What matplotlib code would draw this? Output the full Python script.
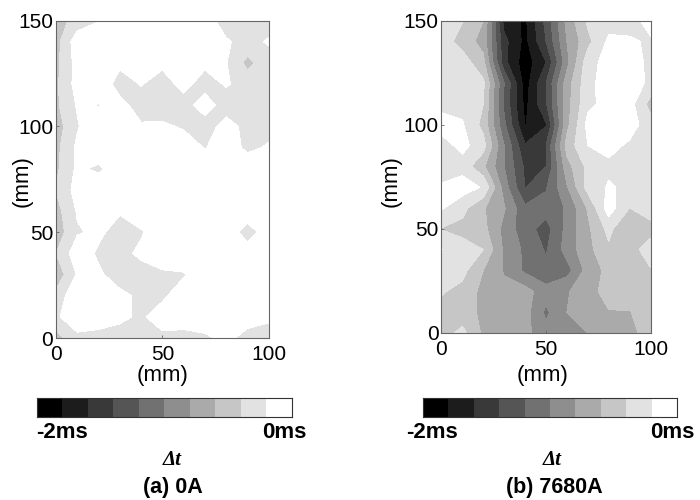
#-*- coding: utf-8 -*-
import numpy as np
import matplotlib
matplotlib.use('Agg')
import matplotlib.pyplot as plt
from matplotlib.colors import ListedColormap

plt.rcParams['font.family'] = ['Liberation Sans', 'DejaVu Sans']

x_mm = [0, 10, 20, 30, 40, 50, 60, 70, 80, 90, 100]
y_mm = [0, 10, 20, 30, 40, 50, 60, 70, 80, 90, 100, 110, 120, 130, 140, 150]

# dt, in colour bands (0 = -2ms, 10 = 0ms), rows from y=0 up
bands_0A = [
    [7.6, 8.7, 8.6, 8.6, 8.6, 8.75, 8.6, 8.8, 9.3, 8.6, 8.5],
    [8.8, 9.8, 9.6, 9.2, 8.85, 9.5, 9.6, 9.7, 9.7, 9.5, 9.2],
    [8.3, 9.9, 9.6, 9.2, 8.85, 8.8, 9.6, 9.7, 8.95, 9.7, 9.8],
    [7.3, 9.1, 9.15, 8.6, 8.6, 8.8, 8.9, 9.7, 9.8, 9.8, 9.8],
    [8.0, 9.6, 8.85, 8.7, 9.2, 9.7, 9.8, 9.8, 9.8, 9.6, 9.8],
    [7.4, 8.9, 9.2, 8.6, 8.9, 9.6, 9.8, 9.8, 9.7, 8.5, 9.6],
    [7.6, 9.1, 9.5, 9.1, 9.6, 9.8, 9.8, 9.8, 9.8, 9.6, 9.8],
    [8.05, 9.4, 9.7, 9.8, 9.8, 9.8, 9.8, 9.8, 9.8, 9.8, 9.8],
    [7.8, 9.2, 8.8, 9.7, 9.8, 9.8, 9.8, 9.6, 9.7, 9.6, 9.6],
    [7.7, 9.2, 9.8, 9.8, 9.8, 9.7, 9.5, 8.95, 9.5, 8.8, 9.1],
    [7.5, 8.9, 9.9, 9.8, 9.1, 9.15, 8.9, 8.5, 9.4, 8.7, 8.7],
    [7.8, 9.1, 8.95, 9.3, 8.6, 8.5, 8.6, 9.5, 8.5, 8.6, 8.5],
    [7.8, 9.4, 9.7, 8.6, 9.05, 8.6, 9.3, 8.6, 9.1, 8.6, 8.6],
    [7.7, 9.4, 9.8, 9.2, 9.5, 9.2, 9.5, 9.2, 9.05, 7.7, 8.6],
    [7.6, 9.6, 9.8, 9.8, 9.8, 9.8, 9.7, 9.6, 9.1, 8.7, 9.1],
    [7.5, 8.4, 8.95, 9.6, 9.8, 9.8, 9.8, 9.4, 8.6, 8.6, 8.6],
]

bands_7680A = [
    [7.5, 8.3, 6.8, 6.5, 6.3, 5.3, 5.6, 6.0, 6.4, 6.8, 7.3],
    [7.7, 7.4, 6.8, 6.6, 6.4, 4.8, 6.0, 6.5, 6.95, 6.95, 7.6],
    [8.1, 7.7, 6.7, 6.3, 6.4, 5.4, 5.9, 6.6, 7.4, 7.5, 7.6],
    [8.3, 8.3, 7.0, 5.9, 4.8, 4.2, 4.6, 6.4, 7.3, 7.3, 7.9],
    [9.02, 8.4, 8.0, 5.8, 4.8, 3.9, 5.4, 6.7, 7.8, 7.5, 8.6],
    [7.95, 7.7, 7.3, 5.7, 4.4, 3.6, 5.3, 6.8, 8.3, 6.95, 7.5],
    [9.1, 8.3, 7.1, 6.1, 4.2, 4.4, 5.1, 7.1, 9.5, 8.0, 8.7],
    [9.1, 9.5, 8.9, 5.5, 2.95, 3.9, 5.9, 8.4, 9.1, 8.8, 8.8],
    [8.6, 8.6, 7.2, 5.0, 2.8, 3.0, 6.6, 8.3, 8.8, 8.9, 8.5],
    [8.6, 9.3, 8.4, 5.0, 2.1, 3.0, 7.4, 9.0, 9.3, 8.85, 8.5],
    [9.4, 9.1, 7.7, 4.2, 0.95, 1.9, 6.7, 9.3, 9.6, 9.4, 8.5],
    [8.7, 8.7, 8.0, 3.8, 0.7, 2.9, 6.6, 8.8, 9.3, 9.4, 7.6],
    [8.6, 8.7, 8.2, 4.0, 0.5, 3.0, 6.5, 8.7, 9.5, 9.5, 8.8],
    [8.8, 8.5, 7.3, 2.3, 0.4, 2.0, 5.7, 8.6, 9.4, 9.4, 8.8],
    [8.5, 7.6, 6.6, 2.3, 0.7, 3.0, 6.0, 7.7, 9.2, 9.1, 8.9],
    [8.7, 8.05, 7.0, 1.6, 0.8, 3.3, 6.3, 8.2, 8.6, 8.7, 9.3],
]

greys = ['#000000', '#1c1c1c', '#393939', '#555555', '#717171',
         '#8e8e8e', '#aaaaaa', '#c6c6c6', '#e2e2e2', '#ffffff']
levels = np.arange(11)

W, H = 700, 500


def box(x0, y0, x1, y1):
    # pixel box (y down) -> figure fractions
    return [x0 / W, 1 - y1 / H, (x1 - x0) / W, (y1 - y0) / H]


def txt(fig, x, y, s, **kw):
    fig.text(x / W, 1 - y / H, s, ha='center', va='center', **kw)


def panel(fig, rect, bands, ylab_x, xlab_x):
    ax = fig.add_axes(box(*rect))
    ax.contourf(x_mm, y_mm, np.array(bands), levels=levels, colors=greys)
    ax.set_xlim(0, 100)
    ax.set_ylim(0, 150)
    ax.set_xticks([0, 50, 100])
    ax.set_yticks([0, 50, 100, 150])
    ax.tick_params(direction='in', length=2, width=0.6, color='#666666',
                   labelsize=15)
    ax.tick_params(axis='x', pad=5)
    ax.tick_params(axis='y', pad=2)
    for s in ax.spines.values():
        s.set_linewidth(0.8)
        s.set_color('#666666')
    txt(fig, ylab_x, 181, '(mm)', fontsize=16, rotation=90)
    txt(fig, xlab_x, 376, '(mm)', fontsize=16)
    return ax


def colorbar(fig, x0, x1):
    ax = fig.add_axes(box(x0, 398, x1, 417))
    ax.imshow(np.arange(10).reshape(1, 10), cmap=ListedColormap(greys),
              aspect='auto', vmin=0, vmax=9)
    ax.set_xticks([])
    ax.set_yticks([])
    for s in ax.spines.values():
        s.set_linewidth(0.8)
        s.set_color('#333333')


fig = plt.figure(figsize=(7, 5), dpi=100)

panel(fig, (56, 20.5, 268.7, 338), bands_0A, 22, 163)
panel(fig, (441.5, 20.5, 650.5, 333), bands_7680A, 391, 543)

colorbar(fig, 37, 292)
colorbar(fig, 423, 677)

txt(fig, 62, 432, '-2ms', fontsize=16, fontweight='bold')
txt(fig, 284, 432, '0ms', fontsize=16, fontweight='bold')
txt(fig, 432, 432, '-2ms', fontsize=16, fontweight='bold')
txt(fig, 672, 432, '0ms', fontsize=16, fontweight='bold')

serif = ['Liberation Serif', 'DejaVu Serif']
txt(fig, 172, 460, '\u0394t', fontsize=15, fontweight='bold', style='italic', family=serif)
txt(fig, 552, 460, '\u0394t', fontsize=15, fontweight='bold', style='italic', family=serif)
txt(fig, 173, 487, '(a) 0A', fontsize=15.5, fontweight='bold')
txt(fig, 554, 487, '(b) 7680A', fontsize=15.5, fontweight='bold')

fig.savefig('out.png', dpi=100)
